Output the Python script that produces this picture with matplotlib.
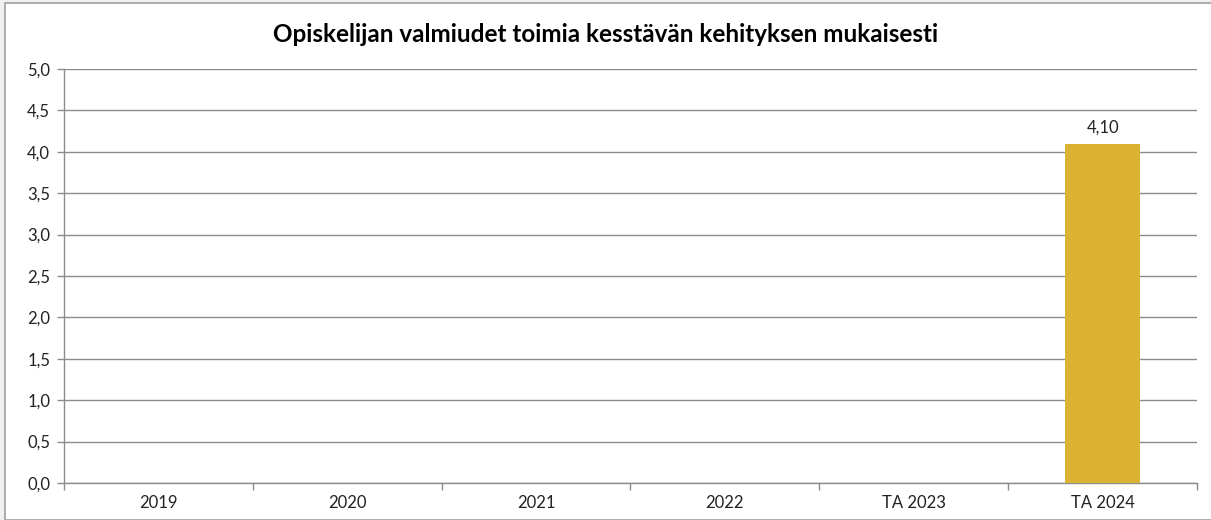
import matplotlib
matplotlib.use("Agg")
import matplotlib.pyplot as plt
from matplotlib.patches import Rectangle
from matplotlib.ticker import FixedLocator, FuncFormatter

categories = ["2019", "2020", "2021", "2022", "TA 2023", "TA 2024"]
values = [None, None, None, None, None, 4.10]
title = "Opiskelijan valmiudet toimia kesstävän kehityksen mukaisesti"

plt.rcParams['font.family'] = ['Lato', 'DejaVu Sans']

W, H = 1211, 520
fig = plt.figure(figsize=(W / 100, H / 100), dpi=100, facecolor='#f0f0f0')
fig.patches.append(Rectangle((5 / W, 0), 1, 1 - 3 / H, transform=fig.transFigure,
                             facecolor='white', edgecolor='#a0a0a0', linewidth=1.2,
                             zorder=-10))

left, right, top, bottom = 64, 1197, 69, 483
ax = fig.add_axes([left / W, 1 - bottom / H, (right - left) / W, (bottom - top) / H])
ax.set_facecolor('white')
ax.set_zorder(1)

xs = list(range(len(categories)))
for x, v in zip(xs, values):
    if v is not None:
        ax.bar(x, v, width=0.4, color='#dcb232', zorder=3)
        ax.text(x, v + 0.1, f"{v:.2f}".replace('.', ','), ha='center', va='bottom',
                fontsize=12, color='#222222')

ax.set_xlim(-0.5, len(categories) - 0.5)
ax.set_ylim(0, 5)
ax.yaxis.set_major_locator(FixedLocator([i * 0.5 for i in range(11)]))
ax.yaxis.set_major_formatter(FuncFormatter(lambda v, p: f"{v:.1f}".replace('.', ',')))
ax.grid(axis='y', color='#8c8c8c', linewidth=1.0, zorder=0)
ax.set_axisbelow(True)

ax.set_xticks(xs)
ax.set_xticklabels(categories)
ax.xaxis.set_minor_locator(FixedLocator([i - 0.5 for i in range(len(categories) + 1)]))
ax.tick_params(axis='x', which='major', length=0, pad=9, labelsize=12, labelcolor='#222222')
ax.tick_params(axis='x', which='minor', length=5, color='#8c8c8c', width=1)
ax.tick_params(axis='y', length=5, color='#8c8c8c', width=1, labelsize=12, labelcolor='#222222', pad=5)

for s in ['top', 'right']:
    ax.spines[s].set_visible(False)
for s in ['left', 'bottom']:
    ax.spines[s].set_color('#8c8c8c')
    ax.spines[s].set_linewidth(1.0)

fig.text(0.5, 1 - 35 / H, title, ha='center', va='center', fontsize=17.5,
         fontweight='bold', color='black')

fig.savefig("out.png", dpi=100, facecolor=fig.get_facecolor())
